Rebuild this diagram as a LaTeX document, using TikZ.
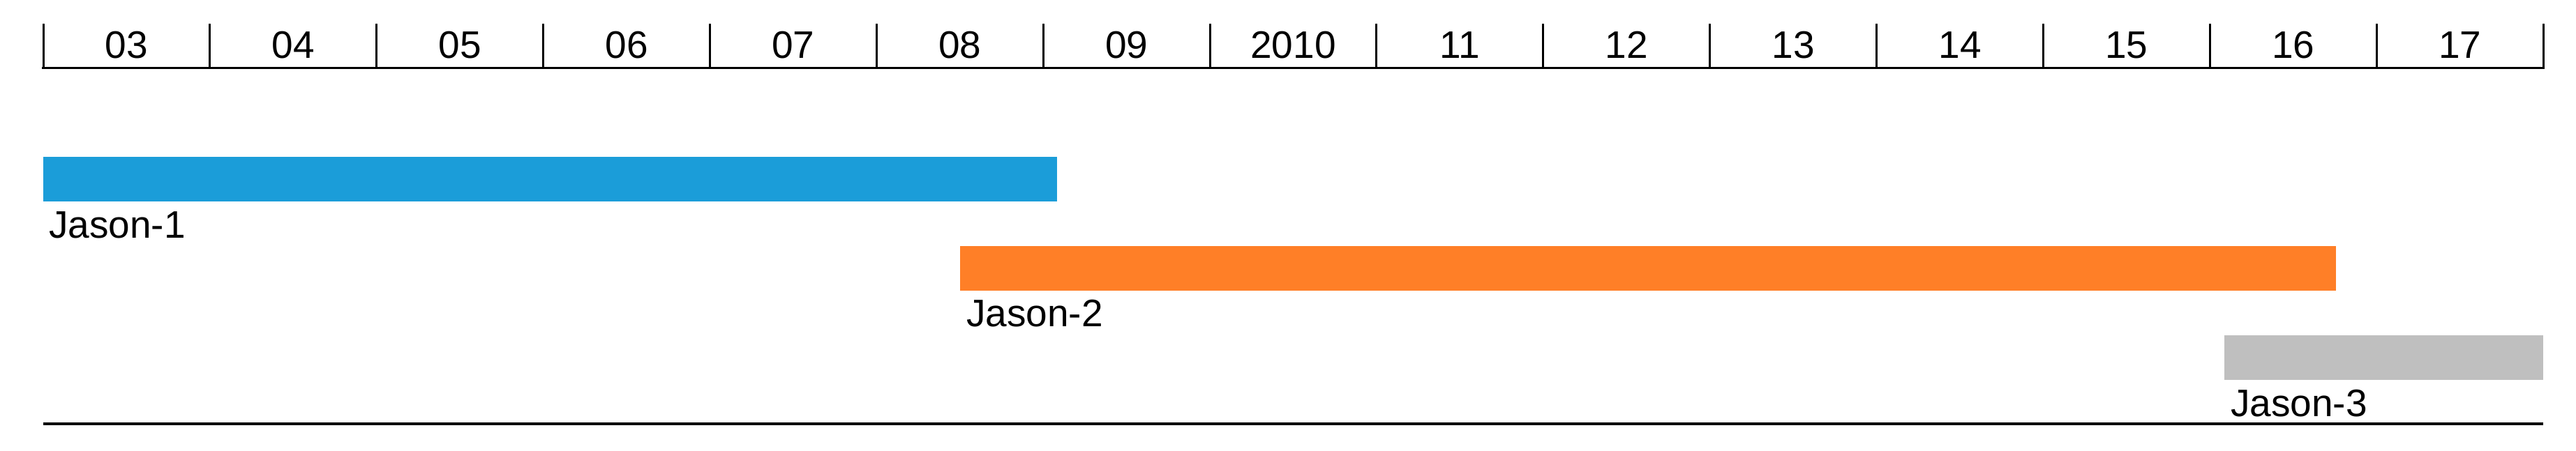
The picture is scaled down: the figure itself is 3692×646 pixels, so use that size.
\documentclass[tikz,border=0pt]{standalone}
\usepackage{fontspec}
\setmainfont{Liberation Sans}
\definecolor{jblue}{RGB}{27,157,217}
\definecolor{jorange}{RGB}{255,127,39}
\definecolor{jgray}{RGB}{191,191,191}
\begin{document}
\begin{tikzpicture}[x=1pt,y=-1pt,
  axisline/.style={line width=3.5pt, line cap=rect},
  tickline/.style={line width=3pt},
  barbox/.style={draw=none, inner sep=0pt, outer sep=0pt, anchor=north west, minimum height=64pt},
  yearlabel/.style={font=\fontsize{55}{60}\selectfont, anchor=base, inner sep=0pt},
  barlabel/.style={font=\fontsize{55}{60}\selectfont, anchor=base west, inner sep=0pt}]
\useasboundingbox (0,0) rectangle (3692,646);
% ticks
\foreach \i in {0,...,15} {
  \coordinate (t\i) at ({62+\i*238.87},34);
  \coordinate (a\i) at ({62+\i*238.87},97.7);
  \draw[tickline] (t\i) -- (a\i);
}
\draw[axisline] (a0) -- (a15);
% year labels
\foreach \lab [count=\i from 0] in {03,04,05,06,07,08,09,2010,11,12,13,14,15,16,17} {
  \node[yearlabel] (y\i) at ({62+(\i+0.5)*238.87},83) {\lab};
}
% bars
\node[barbox, fill=jblue, minimum width=1453pt] (b1) at (62,225) {};
\node[barbox, fill=jorange, minimum width=1972pt] (b2) at (1376,353) {};
\node[barbox, fill=jgray, minimum width=457pt] (b3) at (3188,481) {};
\node[barlabel] (l1) at ([xshift=8pt,yshift=-52pt]b1.south west) {Jason-1};
\node[barlabel] (l2) at ([xshift=9pt,yshift=-51pt]b2.south west) {Jason-2};
\node[barlabel] (l3) at ([xshift=9pt,yshift=-52pt]b3.south west) {Jason-3};
% bottom line
\coordinate (bl) at (62,608);
\coordinate (br) at (3645,608);
\draw[line width=4pt] (bl) -- (br);
\end{tikzpicture}
\end{document}
